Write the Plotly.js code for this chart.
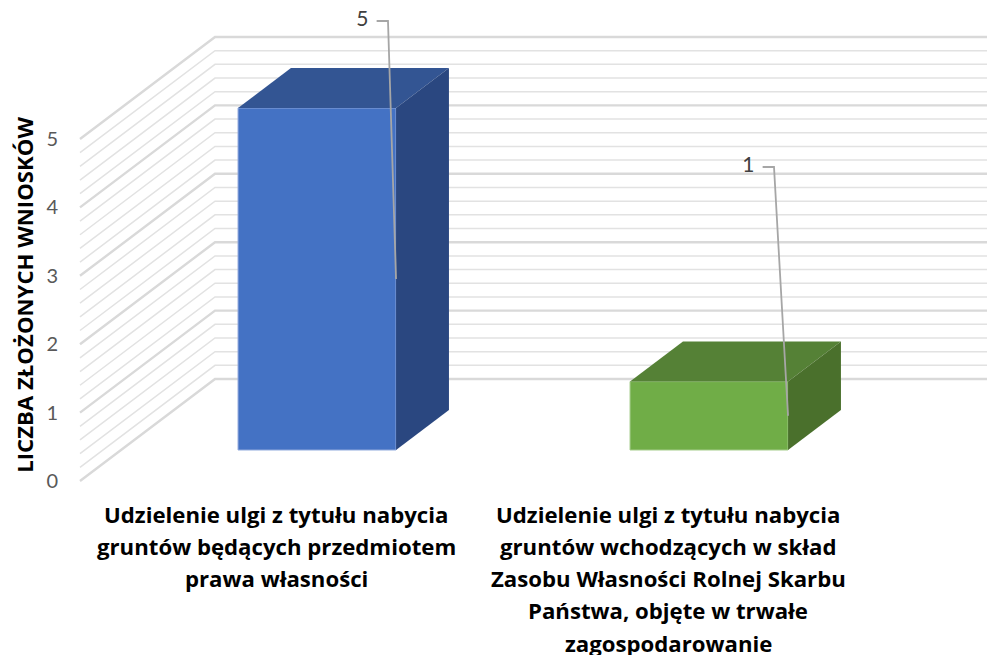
<!DOCTYPE html>
<html><head><meta charset="utf-8">
<script src="https://cdn.plot.ly/plotly-3.0.1.min.js"></script>
<style>html,body{margin:0;padding:0;background:#fff}</style></head>
<body><div id="chart" style="width:987px;height:655px"></div>
<script>
// Data
const categoryLines = [
  ["Udzielenie ulgi z tytułu nabycia","gruntów będących przedmiotem","prawa własności"],
  ["Udzielenie ulgi z tytułu nabycia","gruntów wchodzących w skład","Zasobu Własności Rolnej Skarbu","Państwa, objęte w trwałe","zagospodarowanie"]
];
const values = [5, 1];
const tickLabels = [0, 1, 2, 3, 4, 5];
const yTitle = "LICZBA ZŁOŻONYCH WNIOSKÓW";
// Styles
const frontColors = ["#4472C4", "#70AD47"];
const edgeColors  = ["#8FA8DC", "#A3CB89"];
const topColors   = ["#335593", "#558136"];
const sideColors  = ["#2A4780", "#4A702C"];
// Oblique projection, in data units
const pxX = 392, pxY = 68.4;            // pixels per category / per value unit
const depthX = 135 / pxX, depthY = 102 / pxY; // wall depth
const d0 = 0.304, d1 = 0.696;           // bar depth span
const halfW = 79 / pxX;
const P = (c, v, t) => [c + t * depthX, v + t * depthY];
const cats = values.map((_, i) => i);

const traces = [];
// front faces: real bars
traces.push({type:"bar", x: cats.map(c => P(c,0,d0)[0]), y: values, base: values.map(() => P(0,0,d0)[1]),
  width: 2*halfW, marker:{color:frontColors, line:{color:edgeColors, width:1}}, hoverinfo:"skip", showlegend:false});
// top and side faces
function poly(pts, color){
  pts = pts.concat([pts[0]]);
  traces.push({type:"scatter", mode:"lines", x: pts.map(p=>p[0]), y: pts.map(p=>p[1]), fill:"toself",
    fillcolor:color, line:{width:0, color:color}, hoverinfo:"skip", showlegend:false});
}
cats.forEach(c => {
  const v = values[c], L = c - halfW, R = c + halfW;
  poly([P(L,v,d0),P(R,v,d0),P(R,v,d1),P(L,v,d1)], topColors[c]);
  poly([P(R,0,d0),P(R,v,d0),P(R,v,d1),P(R,0,d1)], sideColors[c]);
});
// data labels with leader lines
const labelCornerX = [0.2857, 1.2704], labelCornerY = [6.725, 4.591];
const stub = 0.029, labelGap = 0.05;
cats.forEach(c => {
  const end = P(c + halfW, values[c]/2, d0);
  traces.push({type:"scatter", mode:"lines",
    x:[labelCornerX[c]-stub, labelCornerX[c], end[0]], y:[labelCornerY[c], labelCornerY[c], end[1]],
    line:{color:"#A6A6A6", width:1.8}, hoverinfo:"skip", showlegend:false});
});
traces.push({type:"scatter", mode:"text", x: labelCornerX.map(x=>x-labelGap), y: labelCornerY.map(y=>y),
  text: values.map(String), textposition:"middle left", textfont:{family:"Lato", size:21, color:"#404040"},
  hoverinfo:"skip", showlegend:false});

// walls' gridlines
const shapes = [];
const gridStep = 0.2;
for (let i = 0; i <= 25; i++) {
  const v = i * gridStep, major = i % 5 === 0;
  const a = P(-0.5,v,0), b = P(-0.5,v,1), e = P(1.5,v,1);
  shapes.push({type:"path", xref:"x", yref:"y", layer:"below",
    path:`M${a[0]},${a[1]}L${b[0]},${b[1]}L${e[0]},${e[1]}`,
    line:{color: major ? "#D9D9D9" : "#E2E2E2", width: major ? 2.4 : 1.5}});
}
// category labels, line by line
const annotations = [];
const lineStep = 32.3, firstLine = 76;
categoryLines.forEach((lines, c) => lines.forEach((text, i) => {
  annotations.push({xref:"x", x:c, yref:"paper", y:0, yanchor:"middle", xanchor:"center",
    yshift: firstLine - i*lineStep, showarrow:false, text,
    font:{family:"Open Sans", size:22.2, color:"#000", weight:700}});
}));

const ml = 64, mb = 65;
const layout = {
  width:987, height:655, paper_bgcolor:"#fff", plot_bgcolor:"#fff", showlegend:false,
  margin:{l:ml, r:0, t:0, b:mb, pad:0},
  xaxis:{range:[-0.5-(80-ml)/pxX, -0.5+(987-80)/pxX], showgrid:false, zeroline:false, showline:false,
    ticks:"", showticklabels:false, fixedrange:true},
  yaxis:{range:[(481-590)/pxY, 481/pxY], tickvals:tickLabels, ticktext:tickLabels.map(String),
    showgrid:false, zeroline:false, showline:false, ticks:"outside", ticklen:1, tickcolor:"rgba(0,0,0,0)", fixedrange:true,
    tickfont:{family:"Lato", size:20, color:"#595959"},
    title:{text:"<b>"+yTitle+"</b>", font:{family:"Open Sans", size:22.2, color:"#000"}, standoff:6}},
  shapes, annotations, bargap:0
};
Plotly.newPlot("chart", traces, layout, {displayModeBar:false, staticPlot:true});
</script></body></html>
